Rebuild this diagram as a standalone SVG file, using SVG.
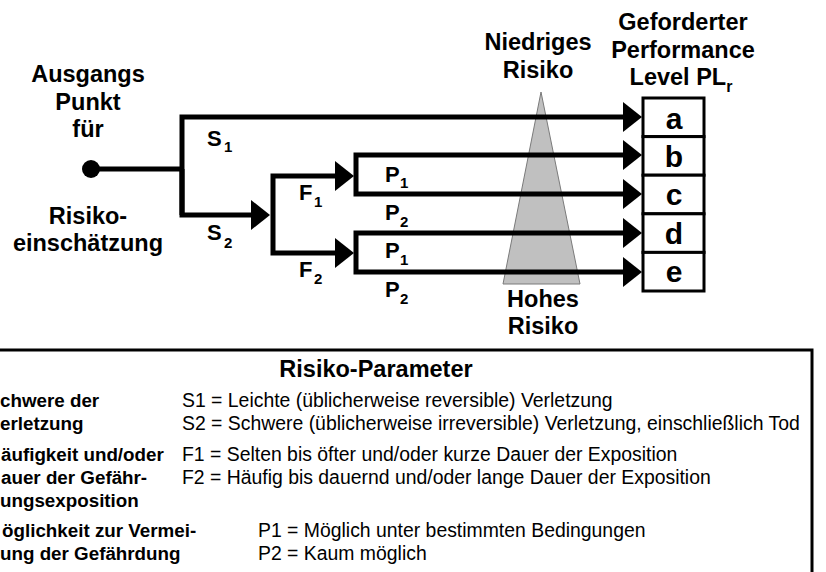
<svg xmlns="http://www.w3.org/2000/svg" width="826" height="572" viewBox="0 0 826 572">
  <style>
    text { font-family: "Liberation Sans", Arial, Helvetica, sans-serif; fill: #000; }
    .lbl { font-size: 23.5px; font-weight: bold; text-anchor: middle; }
    .br { font-size: 22px; font-weight: bold; }
    .sub { font-size: 15px; }
    .pl { font-size: 30px; font-weight: bold; text-anchor: middle; }
    .wire { fill: none; stroke: #000; stroke-width: 5; stroke-linejoin: miter; stroke-linecap: butt; }
    .cell { fill: #fff; stroke: #000; stroke-width: 3; }
    .hd { font-size: 23.5px; font-weight: bold; text-anchor: middle; }
    .key { font-size: 18.8px; font-weight: bold; }
    .val { font-size: 19.4px; }
  </style>
  <defs>
    <marker id="arrow" viewBox="0 0 19 30" refX="0" refY="15" markerWidth="19" markerHeight="30" markerUnits="userSpaceOnUse" orient="auto">
      <path d="M0,0 L19,15 L0,30 Z" fill="#000"/>
    </marker>
  </defs>

  <!-- risk gradient wedge (drawn under the branch lines) -->
  <g id="risk-wedge">
    <polygon points="541,92 580,284 503,284" fill="#c0c0c0" stroke="#7a7a7a" stroke-width="1"/>
    <text class="lbl" x="538" y="50">Niedriges</text>
    <text class="lbl" x="538" y="78">Risiko</text>
    <text class="lbl" x="543" y="307">Hohes</text>
    <text class="lbl" x="543" y="334">Risiko</text>
  </g>

  <!-- starting point -->
  <g id="start">
    <circle cx="91" cy="169" r="9" fill="#000"/>
    <text class="lbl" x="88" y="82">Ausgangs</text>
    <text class="lbl" x="88" y="110">Punkt</text>
    <text class="lbl" x="88" y="137">für</text>
    <text class="lbl" x="88" y="224">Risiko-</text>
    <text class="lbl" x="88" y="251">einschätzung</text>
  </g>

  <!-- decision tree connectors -->
  <g id="connectors">
    <path class="wire" d="M91,169 H182"/>
    <path class="wire" d="M182,215 V117 H623" marker-end="url(#arrow)"/>
    <path class="wire" d="M182,169 V215 H251" marker-end="url(#arrow)"/>
    <path class="wire" d="M273,215 V176 H335" marker-end="url(#arrow)"/>
    <path class="wire" d="M273,215 V253 H335" marker-end="url(#arrow)"/>
    <path class="wire" d="M356,175 V155 H623" marker-end="url(#arrow)"/>
    <path class="wire" d="M356,175 V194 H623" marker-end="url(#arrow)"/>
    <path class="wire" d="M356,253 V233 H623" marker-end="url(#arrow)"/>
    <path class="wire" d="M356,253 V272 H623" marker-end="url(#arrow)"/>
  </g>

  <!-- branch labels -->
  <g id="branch-s">
    <text class="br" x="207" y="146">S<tspan class="sub" x="224" y="152">1</tspan></text>
    <text class="br" x="207" y="240">S<tspan class="sub" x="224" y="248">2</tspan></text>
  </g>
  <g id="branch-f">
    <text class="br" x="299" y="200">F<tspan class="sub" x="314" y="207">1</tspan></text>
    <text class="br" x="299" y="277">F<tspan class="sub" x="314" y="284">2</tspan></text>
  </g>
  <g id="branch-p">
    <text class="br" x="385" y="182">P<tspan class="sub" x="400" y="188">1</tspan></text>
    <text class="br" x="385" y="220">P<tspan class="sub" x="400" y="227">2</tspan></text>
    <text class="br" x="385" y="258">P<tspan class="sub" x="400" y="265">1</tspan></text>
    <text class="br" x="385" y="297">P<tspan class="sub" x="400" y="304">2</tspan></text>
  </g>

  <!-- required performance level column -->
  <g id="pl-levels">
    <text class="lbl" x="683" y="30">Geforderter</text>
    <text class="lbl" x="683" y="58">Performance</text>
    <text class="lbl" x="681" y="85">Level PL<tspan font-size="16" dy="7">r</tspan></text>
    <rect class="cell" x="643" y="98" width="61" height="38.6"/>
    <rect class="cell" x="643" y="136.6" width="61" height="38.6"/>
    <rect class="cell" x="643" y="175.2" width="61" height="38.6"/>
    <rect class="cell" x="643" y="213.8" width="61" height="38.6"/>
    <rect class="cell" x="643" y="252.4" width="61" height="38.6"/>
    <text class="pl" x="674" y="129">a</text>
    <text class="pl" x="674" y="167">b</text>
    <text class="pl" x="674" y="205">c</text>
    <text class="pl" x="674" y="244">d</text>
    <text class="pl" x="674" y="282">e</text>
  </g>

  <!-- parameter legend; the frame runs on past the left and bottom edges -->
  <g id="legend">
    <rect x="-10" y="350" width="822" height="240" fill="none" stroke="#000" stroke-width="3"/>
    <text class="hd" x="376" y="377">Risiko-Parameter</text>
    <text class="key" x="0" y="407">chwere der</text>
    <text class="key" x="0" y="430">erletzung</text>
    <text class="key" x="1" y="461">äufigkeit und/oder</text>
    <text class="key" x="1" y="484">auer der Gefähr-</text>
    <text class="key" x="0" y="507">ungsexposition</text>
    <text class="key" x="2" y="537">öglichkeit zur Vermei-</text>
    <text class="key" x="0" y="560">ung der Gefährdung</text>
    <text class="val" x="182" y="407">S1 = Leichte (üblicherweise reversible) Verletzung</text>
    <text class="val" x="182" y="430">S2 = Schwere (üblicherweise irreversible) Verletzung, einschließlich Tod</text>
    <text class="val" x="182" y="461">F1 = Selten bis öfter und/oder kurze Dauer der Exposition</text>
    <text class="val" x="182" y="484">F2 = Häufig bis dauernd und/oder lange Dauer der Exposition</text>
    <text class="val" x="258" y="537">P1 = Möglich unter bestimmten Bedingungen</text>
    <text class="val" x="258" y="560">P2 = Kaum möglich</text>
  </g>
</svg>
